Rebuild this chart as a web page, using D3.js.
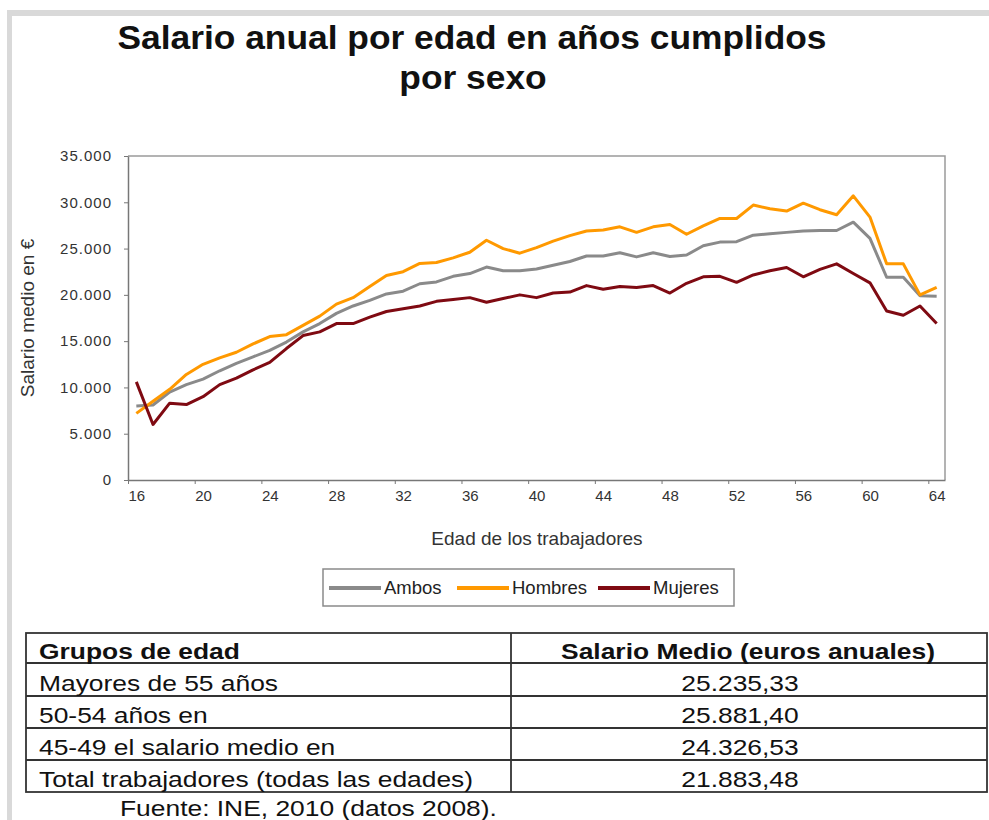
<!DOCTYPE html>
<html lang="es">
<head>
    <meta charset="UTF-8">
    <script src="https://cdn.jsdelivr.net/npm/d3@7/dist/d3.min.js"></script>
    <title>Salario anual por edad</title>
    <style>
        body { margin: 0; background: #fff; }
        svg { font-family: 'Liberation Sans', Arial, sans-serif; display: block; }
    </style>
</head>
<body>
    <svg width="989" height="820"></svg>

    <script>
        // datos (INE 2008)
        const edades = [16, 17, 18, 19, 20, 21, 22, 23, 24, 25, 26, 27, 28, 29, 30, 31, 32,
            33, 34, 35, 36, 37, 38, 39, 40, 41, 42, 43, 44, 45, 46, 47, 48, 49, 50, 51, 52,
            53, 54, 55, 56, 57, 58, 59, 60, 61, 62, 63, 64];

        const ambos = [8000, 8100, 9500, 10300, 10900, 11800, 12600, 13300, 14000, 14900,
            16000, 16900, 18000, 18800, 19400, 20100, 20400, 21200, 21400, 22000, 22300,
            23000, 22600, 22600, 22800, 23200, 23600, 24200, 24200, 24550, 24100, 24550,
            24150, 24300, 25300, 25700, 25750, 26450, 26600, 26750, 26900, 26950, 26950,
            27850, 26100, 21900, 21900, 19900, 19850];

        const hombres = [7200, 8500, 9800, 11400, 12500, 13200, 13800, 14700, 15500, 15700,
            16700, 17700, 19000, 19700, 20900, 22100, 22500, 23400, 23500, 24000, 24600,
            25900, 25000, 24500, 25100, 25800, 26400, 26900, 27000, 27350, 26750, 27350,
            27600, 26550, 27450, 28250, 28250, 29700, 29300, 29050, 29900, 29200, 28650,
            30700, 28400, 23350, 23350, 20000, 20800];

        const mujeres = [10600, 6000, 8300, 8150, 9000, 10300, 11000, 11900, 12700, 14200,
            15600, 16000, 16900, 16900, 17600, 18200, 18500, 18800, 19300, 19500, 19700,
            19200, 19600, 20000, 19700, 20200, 20300, 21000, 20600, 20900, 20800, 21000,
            20200, 21250, 21950, 22000, 21350, 22150, 22600, 22950, 21950, 22750, 23350,
            22300, 21300, 18250, 17800, 18800, 16900];

        const series = [
            { name: 'Ambos', values: ambos, color: '#8a8a8a' },
            { name: 'Hombres', values: hombres, color: '#ff9900' },
            { name: 'Mujeres', values: mujeres, color: '#7f0a12' }
        ];

        const xTickLabels = [16, 20, 24, 28, 32, 36, 40, 44, 48, 52, 56, 60, 64];
        const yTicks = [0, 5000, 10000, 15000, 20000, 25000, 30000, 35000];

        // tabla
        const grupos = ['Mayores de 55 años', '50-54 años en', '45-49 el salario medio en',
            'Total trabajadores (todas las edades)'];
        const salarios = ['25.235,33', '25.881,40', '24.326,53', '21.883,48'];

        const svg = d3.select('svg');

        // marco gris de la diapositiva
        svg.append('rect').attr('x', 8).attr('y', 10).attr('width', 981).attr('height', 6).attr('fill', '#d9d9d9');
        svg.append('rect').attr('x', 7).attr('y', 10).attr('width', 5).attr('height', 810).attr('fill', '#d9d9d9');

        // titulo
        const title = svg.append('g').attr('font-weight', 'bold').attr('font-size', 34)
            .attr('text-anchor', 'middle').attr('fill', '#111');
        title.append('text').attr('transform', 'translate(472,49) scale(1.04,1)')
            .text('Salario anual por edad en años cumplidos');
        title.append('text').attr('transform', 'translate(473,89) scale(1.04,1)')
            .text('por sexo');

        const plot = { left: 128, right: 945, top: 156, bottom: 480 };

        const x = d3.scaleLinear()
            .domain([15.5, 64.5])
            .range([plot.left, plot.right]);
        const y = d3.scaleLinear()
            .domain([0, 35000])
            .range([plot.bottom, plot.top]);

        const fmt = d3.formatLocale({ decimal: ',', thousands: '.', grouping: [3], currency: ['', '€'] }).format(',d');

        // borde superior y derecho del area
        svg.append('path')
            .attr('d', `M${plot.left},${plot.top}H${plot.right}V${plot.bottom}`)
            .attr('fill', 'none').attr('stroke', '#9a9a9a').attr('stroke-width', 1.5);

        // eje Y
        const yAxis = svg.append('g')
            .attr('transform', `translate(${plot.left},0)`)
            .call(d3.axisLeft(y).tickValues(yTicks).tickSize(4).tickSizeOuter(0).tickPadding(12).tickFormat(fmt));
        yAxis.select('.domain').attr('stroke', '#777').attr('stroke-width', 1.5);
        yAxis.selectAll('.tick line').attr('stroke', '#777');
        yAxis.selectAll('text').attr('font-size', 15).attr('letter-spacing', 1).attr('fill', '#333')
            .attr('font-family', "'Liberation Sans', Arial, sans-serif");

        // eje X: marcas entre categorias
        const xAxis = svg.append('g')
            .attr('transform', `translate(0,${plot.bottom})`)
            .call(d3.axisBottom(x).tickValues(xTickLabels.map(d => d - 0.5)).tickSize(4).tickSizeOuter(0).tickFormat(''));
        xAxis.select('.domain').attr('stroke', '#777').attr('stroke-width', 1.5);
        xAxis.selectAll('.tick line').attr('stroke', '#777');

        // etiquetas centradas en la categoria
        const xLabels = svg.append('g')
            .attr('transform', `translate(0,${plot.bottom})`)
            .call(d3.axisBottom(x).tickValues(xTickLabels).tickSize(0).tickPadding(10));
        xLabels.select('.domain').remove();
        xLabels.selectAll('text').attr('font-size', 15).attr('fill', '#333')
            .attr('font-family', "'Liberation Sans', Arial, sans-serif");

        // titulos de ejes
        svg.append('text')
            .attr('transform', 'translate(34,318) rotate(-90)')
            .attr('text-anchor', 'middle').attr('font-size', 19).attr('fill', '#333')
            .text('Salario medio en €');
        svg.append('text')
            .attr('x', 537).attr('y', 545)
            .attr('text-anchor', 'middle').attr('font-size', 19).attr('fill', '#333')
            .text('Edad de los trabajadores');

        // lineas
        const line = d3.line()
            .x((d, i) => x(edades[i]))
            .y(d => y(d));

        svg.append('g')
            .selectAll('path')
            .data(series)
            .enter()
            .append('path')
            .attr('d', d => line(d.values))
            .attr('fill', 'none')
            .attr('stroke', d => d.color)
            .attr('stroke-width', 3)
            .attr('stroke-linejoin', 'round');

        // leyenda
        svg.append('rect')
            .attr('x', 323).attr('y', 569).attr('width', 411).attr('height', 37)
            .attr('fill', 'none').attr('stroke', '#8a8a8a').attr('stroke-width', 1.5);
        const legendX = [329, 457, 598];
        const legend = svg.append('g')
            .selectAll('g')
            .data(series)
            .enter()
            .append('g')
            .attr('transform', (d, i) => `translate(${legendX[i]},588)`);
        legend.append('line')
            .attr('x1', 0).attr('x2', 52)
            .attr('stroke', d => d.color).attr('stroke-width', 4);
        legend.append('text')
            .attr('x', 55).attr('y', 6)
            .attr('font-size', 18.5).attr('fill', '#222')
            .text(d => d.name);

        // tabla
        const table = { left: 26, right: 987, top: 633, col: 511 };
        const rowLines = [663, 696, 728, 760, 792];
        const tg = svg.append('g').attr('stroke', '#333').attr('stroke-width', 1.8);
        tg.append('rect')
            .attr('x', table.left).attr('y', table.top)
            .attr('width', table.right - table.left).attr('height', rowLines[rowLines.length - 1] - table.top)
            .attr('fill', 'none');
        tg.selectAll('line.row')
            .data(rowLines.slice(0, -1))
            .enter()
            .append('line')
            .attr('x1', table.left).attr('x2', table.right)
            .attr('y1', d => d).attr('y2', d => d);
        tg.append('line')
            .attr('x1', table.col).attr('x2', table.col)
            .attr('y1', table.top).attr('y2', rowLines[rowLines.length - 1]);

        const colCenter = 748;
        function cell(str, xPos, yPos, anchor, bold) {
            svg.append('text')
                .attr('transform', `translate(${xPos},${yPos}) scale(1.2,1)`)
                .attr('text-anchor', anchor)
                .attr('font-size', 22)
                .attr('font-weight', bold ? 'bold' : 'normal')
                .attr('fill', '#111')
                .text(str);
        }
        cell('Grupos de edad', 39, 659, 'start', true);
        cell('Salario Medio (euros anuales)', colCenter, 659, 'middle', true);
        const baselines = [691, 723, 755, 787];
        grupos.forEach((g, i) => {
            cell(g, 39, baselines[i], 'start', false);
            cell(salarios[i], colCenter - 8, baselines[i], 'middle', false);
        });
        cell('Fuente: INE, 2010 (datos 2008).', 120, 816, 'start', false);
    </script>
</body>
</html>
